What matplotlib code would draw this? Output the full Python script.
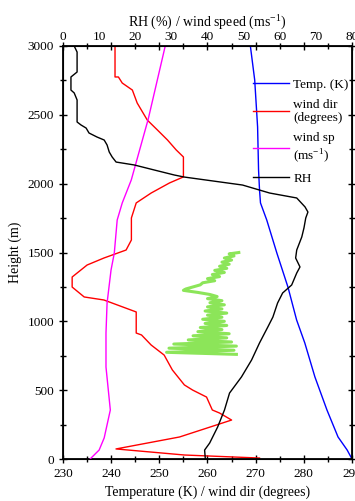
import numpy as np
import matplotlib.pyplot as plt

plt.rcParams['font.family'] = ['Liberation Serif', 'DejaVu Serif']

# temperature (K) profile
temp_h = [3000, 2753, 2412, 2099, 1954, 1860, 1736, 1496, 1249, 1010, 843, 596, 356, 160, 65, 0]
temp_k = [268.9, 269.8, 270.4, 270.6, 270.8, 271.0, 272.3, 274.4, 276.7, 278.5, 280.2, 282.3, 284.8, 287.1, 289.0, 290.0]

# wind direction (degrees, plotted on bottom axis)
wdir_h = [3000, 2775, 2775, 2731, 2680, 2586, 2521, 2462, 2390, 2317, 2245, 2194, 2049, 2005,
          1932, 1860, 1751, 1591, 1518, 1460, 1409, 1322, 1249, 1177, 1155, 1068, 915, 901,
          828, 755, 647, 538, 501, 450, 356, 334, 283, 160, 73, 29, 7]
wdir = [240.8, 240.8, 241.5, 242.3, 244.4, 245.4, 246.5, 247.5, 249.6, 251.7, 253.5, 255.0, 255.0, 252.1,
        248.3, 245.2, 244.2, 244.2, 243.1, 238.5, 235.0, 231.9, 231.9, 234.4, 238.5, 245.2, 245.2, 246.3,
        248.3, 251.0, 252.7, 255.2, 256.9, 259.8, 261.0, 262.5, 265.0, 254.2, 241.0, 255.2, 270.8]

# wind speed (m/s, top axis)
wsp_h = [3000, 2470, 2027, 1860, 1736, 1496, 1373, 1133, 915, 668, 356, 153, 65, 0]
wsp = [28.3, 23.6, 18.9, 16.4, 15.0, 14.2, 13.3, 12.2, 11.9, 11.9, 13.1, 11.4, 10.0, 7.5]

# relative humidity (%, top axis)
rh_h = [3000, 2956, 2811, 2775, 2680, 2659, 2608, 2448, 2426, 2404, 2368, 2339, 2317, 2281,
        2230, 2194, 2157, 2136, 2099, 2063, 2048, 1990, 1932, 1896, 1831, 1794, 1751, 1678,
        1613, 1518, 1460, 1395, 1351, 1264, 1206, 1133, 1031, 959, 843, 719, 596, 479,
        356, 232, 116, 65, 0]
rh = [3.1, 3.9, 3.9, 2.2, 2.2, 3.1, 3.9, 3.9, 5.0, 6.4, 7.2, 9.4, 11.4, 12.2,
      12.8, 13.6, 14.7, 19.7, 25.3, 30.8, 33.6, 49.7, 57.2, 64.7, 67.0, 67.8, 67.2, 66.7,
      66.1, 64.7, 64.4, 65.6, 64.7, 63.3, 60.8, 59.4, 58.1, 56.7, 54.4, 52.2, 49.4, 46.1,
      44.7, 42.8, 40.6, 39.2, 39.4]

# green scribble in the middle of the plot (bottom axis units)
green_h = [1500, 1490, 1475, 1460, 1445, 1430, 1415, 1400, 1385, 1370, 1355, 1340, 1325, 1310,
           1295, 1280, 1265, 1250, 1235, 1225, 1210, 1195, 1180, 1165, 1150, 1135, 1120, 1105,
           1090, 1075, 1060, 1045, 1030, 1015, 1000, 985, 970, 955, 940, 925, 910, 895, 880,
           865, 850, 835, 820, 805, 790, 775, 760]
green_v = [266.5, 264.5, 265.5, 263.5, 265.0, 263.0, 264.5, 262.5, 264.0, 261.5, 263.5, 261.0, 262.5, 260.0,
           261.5, 259.0, 258.5, 257.0, 255.5, 255.0, 258.0, 260.5, 262.0, 260.0, 263.0, 260.5, 263.5, 260.0,
           263.0, 259.5, 264.0, 260.0, 263.0, 259.0, 263.5, 259.5, 264.0, 258.5, 263.0, 258.0, 264.5, 257.0,
           264.0, 256.0, 265.0, 253.0, 266.0, 252.0, 265.5, 251.5, 266.0]

fig = plt.figure(figsize=(3.55, 5.01), dpi=100)
ax = fig.add_axes([63 / 355, 42 / 501, 289 / 355, 413 / 501])
ax2 = ax.twiny()

ax.plot(green_v, green_h, color='#66dd22', lw=2.2, alpha=0.75)
l1, = ax.plot(temp_k, temp_h, color='#0000ff', lw=1)
l2, = ax.plot(wdir, wdir_h, color='#ff0000', lw=1)
l3, = ax2.plot(wsp, wsp_h, color='#ff00ff', lw=1)
l4, = ax2.plot(rh, rh_h, color='black', lw=1)

ax.set_xlim(230, 290)
ax.set_ylim(0, 3000)
ax2.set_xlim(0, 80)

ax.set_xticks(np.arange(230, 291, 10))
ax.set_xticks(np.arange(230, 291, 5), minor=True)
ax.set_yticks(np.arange(0, 3001, 500))
ax.set_yticks(np.arange(0, 3001, 250), minor=True)
ax.tick_params(which='both', direction='inout', top=True, right=True, labelsize=9.5, width=1)
ax.tick_params(which='major', length=6)
ax.tick_params(which='minor', length=4)
ax2.set_xticks(np.arange(0, 81, 10))
ax2.tick_params(length=0, labelsize=9.5, pad=2)

for sp in ax.spines.values():
    sp.set_linewidth(1.3)

ax.set_xlabel('Temperature (K) / wind dir (degrees)', fontsize=10)
ax.set_ylabel('Height (m)', fontsize=10)
ax2.set_xlabel('RH (%) / wind speed (ms$^{\\mathregular{-1}}$)', fontsize=10)

ax.legend([l1, l2, l3, l4], ['Temp. (K)', 'wind dir\n(degrees)', 'wind sp\n(ms$^{\\mathregular{-1}}$)', 'RH'],
          loc='upper right', bbox_to_anchor=(1.03, 0.95), frameon=False, fontsize=9.5,
          handlelength=2.8, handletextpad=0.3, labelspacing=0.6)

fig.savefig('out.png', dpi=100)
